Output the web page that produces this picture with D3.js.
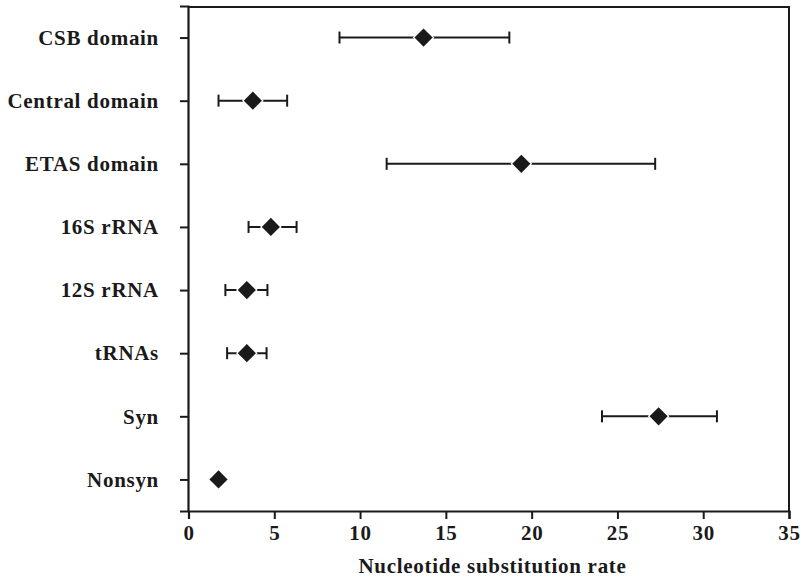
<!DOCTYPE html>
<html>
<head>
<meta charset="utf-8">
<script src="https://cdn.jsdelivr.net/npm/d3@7"></script>
<style>
  html, body { margin: 0; padding: 0; background: #fff; }
  svg { display: block; }
  .lbl { font-family: "Liberation Serif", "Times New Roman", serif; font-weight: bold; fill: #1a1a1a; letter-spacing: 0.7px; }
</style>
</head>
<body>
<svg id="chart" width="805" height="580"></svg>
<script>
// Regions / gene classes, top to bottom
const categories = ["CSB domain", "Central domain", "ETAS domain", "16S rRNA", "12S rRNA", "tRNAs", "Syn", "Nonsyn"];
// Mean rate and interval bounds (null = no interval drawn)
const rates = [13.7, 3.75, 19.4, 4.8, 3.4, 3.4, 27.4, 1.75];
const lower = [8.8, 1.75, 11.55, 3.5, 2.15, 2.25, 24.1, null];
const upper = [18.7, 5.75, 27.2, 6.3, 4.6, 4.55, 30.8, null];
const xTicks = [0, 5, 10, 15, 20, 25, 30, 35];
const xTitle = "Nucleotide substitution rate";

const ink = "#1a1a1a";
const fontPx = 21;
const svg = d3.select("#chart");
const plotL = 188, plotR = 789, plotT = 7, plotB = 511;

const x = d3.scaleLinear().domain([0, 35]).range([plotL + 0.5, plotR]);
const y = d3.scalePoint().domain(categories).range([plotT - 1, plotB]).padding(0.5);

const rows = categories.map((c, i) => ({ c, v: rates[i], lo: lower[i], hi: upper[i] }));

// Frame (top and right edges)
svg.append("path")
  .attr("d", `M${plotL},${plotT}H${plotR}V${plotB}`)
  .attr("fill", "none").attr("stroke", ink).attr("stroke-width", 2);

// X axis
const gx = svg.append("g").attr("transform", `translate(0,${plotB})`)
  .call(d3.axisBottom(x).tickValues(xTicks).tickSize(8).tickPadding(6).tickFormat(d3.format("d")));
gx.attr("font-family", null).attr("font-size", null);
gx.select(".domain").attr("stroke", ink).attr("stroke-width", 2.2);
gx.selectAll(".tick line").attr("stroke", ink).attr("stroke-width", 2);
gx.selectAll(".tick text").attr("class", "lbl").attr("font-size", fontPx).attr("fill", ink);

// Y axis
const gy = svg.append("g").attr("transform", `translate(${plotL},0)`)
  .call(d3.axisLeft(y).tickSize(8).tickPadding(21));
gy.attr("font-family", null).attr("font-size", null);
gy.select(".domain").attr("stroke", ink).attr("stroke-width", 2.2);
gy.selectAll(".tick line").attr("stroke", ink).attr("stroke-width", 2);
gy.selectAll(".tick text").attr("class", "lbl").attr("font-size", fontPx).attr("fill", ink);

// Axis title
svg.append("text").attr("class", "lbl")
  .attr("x", (plotL + plotR) / 2 + 4).attr("y", 573)
  .attr("text-anchor", "middle").attr("font-size", fontPx)
  .text(xTitle);

// Error bars
const withBars = rows.filter(d => d.lo != null);
const bars = svg.append("g");
bars.selectAll("line.whisker").data(withBars).join("line")
  .attr("class", "whisker")
  .attr("x1", d => x(d.lo)).attr("x2", d => x(d.hi))
  .attr("y1", d => y(d.c)).attr("y2", d => y(d.c))
  .attr("stroke", ink).attr("stroke-width", 2);
["lo", "hi"].forEach(k => {
  bars.selectAll("line.cap-" + k).data(withBars).join("line")
    .attr("class", "cap-" + k)
    .attr("x1", d => x(d[k])).attr("x2", d => x(d[k]))
    .attr("y1", d => y(d.c) - 6).attr("y2", d => y(d.c) + 6)
    .attr("stroke", ink).attr("stroke-width", 2);
});

// Diamond markers with a thin white halo
const diamond = d3.symbol().type(d3.symbolSquare).size(165);
svg.append("g").selectAll("path").data(rows).join("path")
  .attr("d", diamond)
  .attr("transform", d => `translate(${x(d.v)},${y(d.c)}) rotate(45)`)
  .attr("fill", ink).attr("stroke", "#fff").attr("stroke-width", 2.5)
  .attr("paint-order", "stroke");
</script>
</body>
</html>
